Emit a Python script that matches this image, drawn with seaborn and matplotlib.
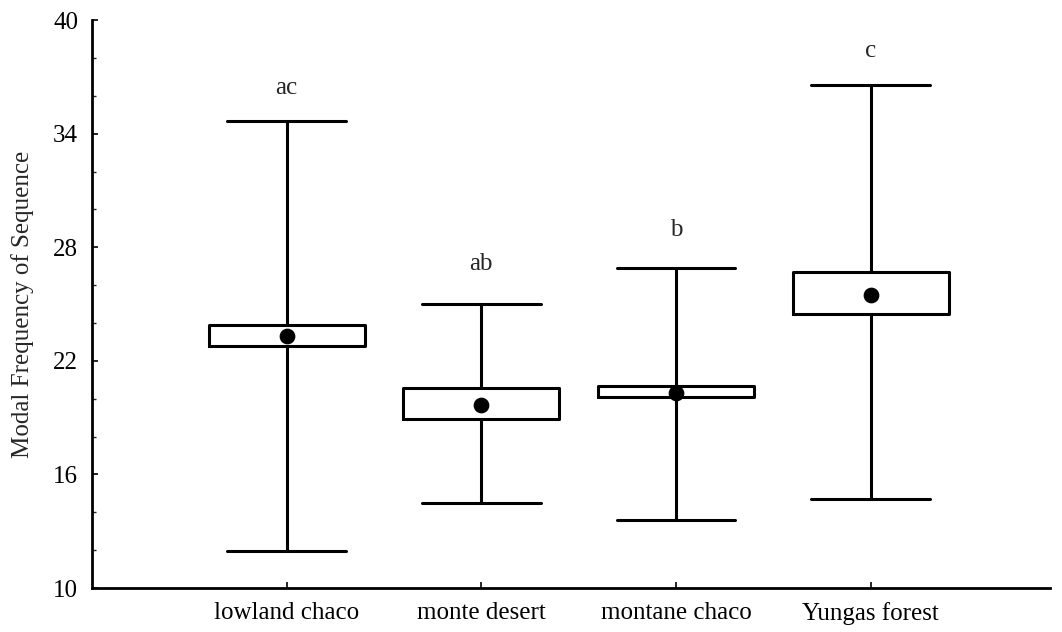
import matplotlib
matplotlib.use("Agg")
import matplotlib.pyplot as plt
from matplotlib.ticker import MultipleLocator
import numpy as np
import pandas as pd
import seaborn as sns

# values
habitats = ["lowland chaco", "monte desert", "montane chaco", "Yungas forest"]
mins = [11.95, 14.5, 13.6, 14.7]
box_low = [22.8, 18.95, 20.1, 24.5]
means = [23.3, 19.65, 20.3, 25.5]
box_high = [23.9, 20.55, 20.7, 26.7]
maxs = [34.7, 25.0, 26.9, 36.6]
letters = ["ac", "ab", "b", "c"]
letter_y = [36.4, 27.1, 28.9, 38.4]
yticks = [10, 16, 22, 28, 34, 40]

# five numbers per habitat so that the box spans box_low..box_high and whiskers min..max
rows = []
for h, a, b, m, c, d in zip(habitats, mins, box_low, means, box_high, maxs):
    for v in (a, b, m, c, d):
        rows.append({"habitat": h, "value": v})
df = pd.DataFrame(rows)
mean_df = pd.DataFrame({"habitat": habitats, "mean": means})

sns.set_style("ticks")
plt.rcParams["font.family"] = ["Liberation Serif", "DejaVu Serif"]

fig = plt.figure(figsize=(10.62, 6.32), dpi=100)
ax = fig.add_axes([0.0866, 0.0696, 0.902, 0.8984])

sns.boxplot(data=df, x="habitat", y="value", order=habitats, whis=(0, 100),
            width=0.8, fill=False, color="black", linewidth=2.2, showfliers=False,
            medianprops={"linewidth": 0}, capwidths=0.61, ax=ax)
sns.scatterplot(data=mean_df, x="habitat", y="mean", color="black", s=110,
                edgecolor="black", zorder=5, ax=ax)

for i, (lab, ly) in enumerate(zip(letters, letter_y)):
    ax.text(i, ly, lab, ha="center", va="center", fontsize=18)

ax.set_ylim(10, 40)
ax.set_xlim(-1.0, 3.92)
ax.set_yticks(yticks)
ax.yaxis.set_minor_locator(MultipleLocator(2))
ax.tick_params(axis="both", direction="in", length=4, width=1.2, labelsize=18, colors="black")
ax.tick_params(axis="y", which="minor", direction="in", length=3, width=1)
ax.tick_params(axis="y", pad=10)
ax.tick_params(axis="x", pad=10)
ax.set_xlabel("")
ax.set_ylabel("Modal Frequency of Sequence", fontsize=18, labelpad=14)
for s in ["left", "bottom"]:
    ax.spines[s].set_linewidth(2)
    ax.spines[s].set_color("black")
sns.despine(ax=ax)

fig.savefig("out.png", dpi=100)
